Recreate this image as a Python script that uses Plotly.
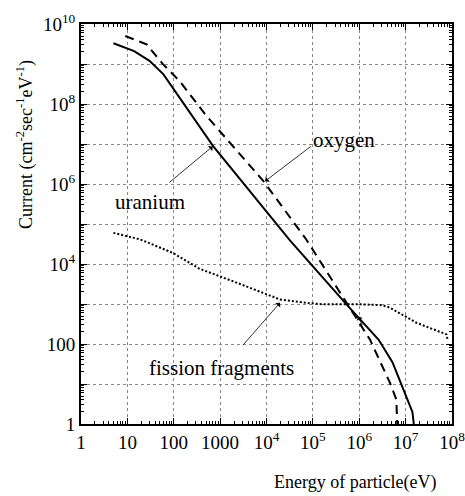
import numpy as np
import plotly.graph_objects as go

# Uranium (solid)
u_energy = [5, 14, 30, 60, 700, 3.2e4, 5.8e5, 2.6e6, 5.2e6, 1.4e7, 1.5e7]
u_current = [3.3e9, 2.1e9, 1.2e9, 5.5e8, 9e6, 3.9e4, 870, 129, 35, 2, 1]

# Oxygen (dashed)
o_energy = [9, 26, 59, 135, 510, 8.5e3, 7.2e4, 5.8e5, 1.7e6, 4.6e6, 6.3e6, 6.6e6]
o_current = [5e9, 3.1e9, 9.8e8, 3.7e8, 5e7, 1.2e6, 4.1e4, 870, 129, 10.7, 4.1, 1]

# Fission fragments (dotted)
f_energy = [5, 19, 95, 360, 1.9e3, 1.95e4, 7.2e4, 1.7e5, 1.2e6, 3.2e6, 4.6e6, 1.7e7, 7.6e7, 8e7]
f_current = [6e4, 4.1e4, 1.9e4, 7.6e3, 3.7e3, 1.3e3, 1.07e3, 980, 980, 930, 810, 340, 174, 130]

x_decades = list(range(0, 9))
x_ticktext = ["1", "10", "100", "1000"] + ["10<sup>%d</sup>" % k for k in range(4, 9)]
y_decades = list(range(0, 11))
y_ticktext = ["1", "", "100", "", "10<sup>4</sup>", "", "10<sup>6</sup>", "", "10<sup>8</sup>", "", "10<sup>10</sup>"]

FONT = "Liberation Serif, Times New Roman, serif"

fig = go.Figure()
fig.add_trace(go.Scatter(x=u_energy, y=u_current, mode="lines",
                         line=dict(color="black", width=2), showlegend=False))
fig.add_trace(go.Scatter(x=o_energy, y=o_current, mode="lines",
                         line=dict(color="black", width=2, dash="9px,6px"), showlegend=False))
fig.add_trace(go.Scatter(x=f_energy, y=f_current, mode="lines",
                         line=dict(color="black", width=2, dash="2px,2px"), showlegend=False))

minor_vals_x = [m * 10 ** d for d in range(0, 8) for m in range(2, 10)]
minor_vals_y = [m * 10 ** d for d in range(0, 10) for m in range(2, 10)]

axis_common = dict(
    type="log", showline=True, linecolor="black", linewidth=2, mirror="allticks",
    ticks="inside", ticklen=6, tickcolor="black", tickwidth=1,
    showgrid=True, gridcolor="#888", griddash="dot", gridwidth=1,
    zeroline=False, tickfont=dict(family=FONT, size=19, color="black"),
    ticklabeloverflow="allow", automargin=False,
)

fig.update_xaxes(range=[0, 8], tickmode="array",
                 tickvals=[10 ** k for k in x_decades], ticktext=x_ticktext,
                 minor=dict(tickmode="array", tickvals=minor_vals_x, ticks="inside",
                            ticklen=3, tickcolor="black", showgrid=False),
                 **axis_common)
fig.update_yaxes(range=[0, 10], tickmode="array",
                 tickvals=[10 ** k for k in y_decades], ticktext=y_ticktext,
                 minor=dict(tickmode="array", tickvals=minor_vals_y, ticks="inside",
                            ticklen=3, tickcolor="black", showgrid=False),
                 **axis_common)

ann_font = dict(family=FONT, size=21, color="black")
arrow_kw = dict(showarrow=True, arrowhead=1, arrowsize=1.4, arrowwidth=0.8,
                arrowcolor="black", xref="x", yref="y", axref="x", ayref="y")
center = dict(xanchor="center", yanchor="middle")
annotations = [
    dict(x=2.84, y=6.94, ax=1.875, ay=6.01, text="", **arrow_kw),
    dict(x=3.97, y=6.07, ax=4.99, ay=6.97, text="", **arrow_kw),
    dict(x=4.29, y=3.03, ax=3.46, ay=1.93, text="", **arrow_kw),
    dict(x=5.98, y=2.69, ax=6.08, ay=2.43, text="", **arrow_kw),
    dict(x=1.49, y=5.54, text="uranium", showarrow=False, xref="x", yref="y", font=ann_font, **center),
    dict(x=5.67, y=7.11, text="oxygen", showarrow=False, xref="x", yref="y", font=ann_font, **center),
    dict(x=3.04, y=1.41, text="fission fragments", showarrow=False, xref="x", yref="y", font=ann_font, **center),
    dict(x=0.741, y=-0.145, xref="paper", yref="paper", text="Energy of particle(eV)",
         showarrow=False, font=dict(family=FONT, size=18, color="black"), **center),
    dict(x=-0.151, y=0.70, xref="paper", yref="paper", textangle=-90,
         text="Current (cm<sup>-2</sup>sec<sup>-1</sup>eV<sup>-1</sup>)",
         showarrow=False, font=dict(family=FONT, size=18, color="black"), **center),
]

fig.update_layout(
    width=465, height=496,
    margin=dict(l=81, r=13, t=24, b=72, autoexpand=False),
    paper_bgcolor="white", plot_bgcolor="white",
    annotations=annotations,
    font=dict(family=FONT, color="black"),
)

fig.write_html("out.html")
